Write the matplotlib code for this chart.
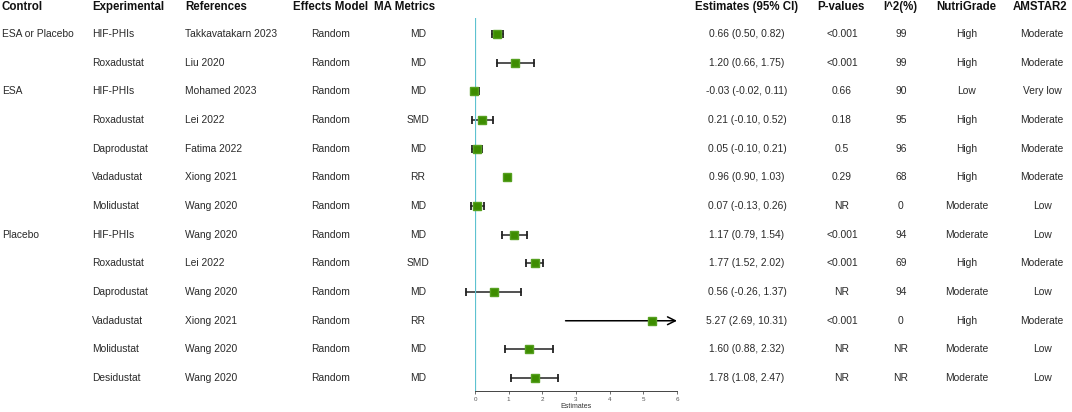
import matplotlib.pyplot as plt
import matplotlib.transforms as mtransforms

plt.rcParams['font.family'] = ['Liberation Sans', 'DejaVu Sans']

control = ["ESA or Placebo", "", "ESA", "", "", "", "", "Placebo", "", "", "", "", ""]
experimental = ["HIF-PHIs", "Roxadustat", "HIF-PHIs", "Roxadustat", "Daprodustat", "Vadadustat",
                "Molidustat", "HIF-PHIs", "Roxadustat", "Daprodustat", "Vadadustat", "Molidustat",
                "Desidustat"]
references = ["Takkavatakarn 2023", "Liu 2020", "Mohamed 2023", "Lei 2022", "Fatima 2022",
              "Xiong 2021", "Wang 2020", "Wang 2020", "Lei 2022", "Wang 2020", "Xiong 2021",
              "Wang 2020", "Wang 2020"]
model = ["Random"] * 13
metrics = ["MD", "MD", "MD", "SMD", "MD", "RR", "MD", "MD", "SMD", "MD", "RR", "MD", "MD"]
est = [0.66, 1.20, -0.03, 0.21, 0.05, 0.96, 0.07, 1.17, 1.77, 0.56, 5.27, 1.60, 1.78]
lo = [0.50, 0.66, -0.02, -0.10, -0.10, 0.90, -0.13, 0.79, 1.52, -0.26, 2.69, 0.88, 1.08]
hi = [0.82, 1.75, 0.11, 0.52, 0.21, 1.03, 0.26, 1.54, 2.02, 1.37, 10.31, 2.32, 2.47]
pvals = ["<0.001", "<0.001", "0.66", "0.18", "0.5", "0.29", "NR", "<0.001", "<0.001", "NR",
         "<0.001", "NR", "NR"]
i2 = ["99", "99", "90", "95", "96", "68", "0", "94", "69", "94", "0", "NR", "NR"]
nutri = ["High", "High", "Low", "High", "High", "High", "Moderate", "Moderate", "High",
         "Moderate", "High", "Moderate", "Moderate"]
amstar = ["Moderate", "Moderate", "Very low", "Moderate", "Moderate", "Moderate", "Low", "Low",
          "Moderate", "Low", "Moderate", "Low", "Low"]
xmax = 6

W, H = 1072, 412
fig = plt.figure(figsize=(W / 100, H / 100), dpi=100)
ax = fig.add_axes([475 / W, 1 - 391 / H, (677 - 475) / W, (391 - 18) / H])

n = len(est)
rows = list(range(n))
ax.set_xlim(0, xmax)
ax.set_ylim(12.45, -0.56)
ax.axvline(0, color='#5ec2d0', lw=1.6, zorder=4)

for i in rows:
    right = min(hi[i], xmax)
    if hi[i] > xmax:
        ax.annotate('', xy=(xmax, i), xytext=(lo[i], i),
                    arrowprops=dict(arrowstyle='->', color='black', lw=1.1,
                                    mutation_scale=14, shrinkA=0, shrinkB=0),
                    annotation_clip=False)
    else:
        ax.plot([lo[i], right], [i, i], color='#222222', lw=1.1, zorder=2, clip_on=False)
        ax.plot([lo[i], right], [i, i], ls='none', marker='|', ms=5.5, mew=1.3,
                color='#222222', zorder=2, clip_on=False)
ax.plot(est, rows, ls='none', marker='s', ms=5.8, color='#3d8c00', mec='#56a020',
        zorder=5, clip_on=False)

for s in ['top', 'right', 'left']:
    ax.spines[s].set_visible(False)
ax.spines['bottom'].set_color('#444444')
ax.spines['bottom'].set_linewidth(0.7)
ax.set_yticks([])
ax.set_xticks(range(0, 7))
ax.tick_params(axis='x', labelsize=4.5, colors='#555555', length=2, width=0.6, pad=2)
ax.set_xlabel('Estimates', fontsize=5, color='#333333', labelpad=1)

tr = mtransforms.blended_transform_factory(fig.transFigure, ax.transData)
fs = 7.4
tc = '#2a2a2a'
headers = [("Control", 2), ("Experimental", 92), ("References", 185), ("Effects Model", 293),
           ("MA Metrics", 374), ("Estimates (95% CI)", 695), ("P-values", 817),
           ("I^2(%)", 883), ("NutriGrade", 936), ("AMSTAR2", 1013)]
for label, x in headers:
    fig.text(x / W, -0.94, label, transform=tr, fontsize=8.3, fontweight='bold',
             ha='left', va='center', color='#111111')

for i in rows:
    fig.text(2 / W, i, control[i], transform=tr, fontsize=fs, ha='left', va='center', color=tc)
    fig.text(92 / W, i, experimental[i], transform=tr, fontsize=fs, ha='left', va='center', color=tc)
    fig.text(185 / W, i, references[i], transform=tr, fontsize=fs, ha='left', va='center', color=tc)
    fig.text(331 / W, i, model[i], transform=tr, fontsize=fs, ha='center', va='center', color=tc)
    fig.text(418 / W, i, metrics[i], transform=tr, fontsize=fs, ha='center', va='center', color=tc)
    ci = f"{est[i]:.2f} ({lo[i]:.2f}, {hi[i]:.2f})"
    fig.text(747 / W, i, ci, transform=tr, fontsize=fs, ha='center', va='center', color=tc)
    fig.text(842 / W, i, pvals[i], transform=tr, fontsize=fs, ha='center', va='center', color=tc)
    fig.text(901 / W, i, i2[i], transform=tr, fontsize=fs, ha='center', va='center', color=tc)
    fig.text(967 / W, i, nutri[i], transform=tr, fontsize=fs, ha='center', va='center', color=tc)
    fig.text(1042 / W, i, amstar[i], transform=tr, fontsize=fs, ha='center', va='center', color=tc)

fig.savefig('out.png', dpi=100)
